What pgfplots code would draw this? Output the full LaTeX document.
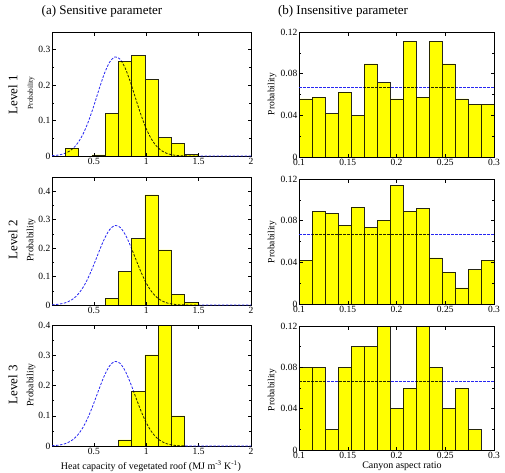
\documentclass[border=0pt]{standalone}
\usepackage{fontspec}
\setmainfont{Liberation Serif}
\usepackage{pgfplots}
\usepackage{pgfplotstable}
\pgfplotsset{compat=1.18}
\definecolor{barY}{rgb}{1,1,0}
\definecolor{lineB}{rgb}{0.15,0.15,0.95}

\pgfplotstableread{
x y
0.10 0.0009
0.15 0.0023
0.20 0.0052
0.25 0.0109
0.30 0.0212
0.35 0.0383
0.40 0.0641
0.45 0.0992
0.50 0.1423
0.55 0.1890
0.60 0.2325
0.65 0.2649
0.70 0.2796
0.75 0.2732
0.80 0.2473
0.85 0.2073
0.90 0.1609
0.95 0.1157
1.00 0.0770
1.05 0.0475
1.10 0.0271
1.15 0.0144
1.20 0.0070
1.25 0.0032
1.30 0.0013
1.40 0.0002
1.50 0.0
2.00 0.0
}\curvetab

\pgfplotsset{
 basepanel/.style={scale only axis, axis line style={line width=0.6pt},
   tick style={line width=0.5pt, black}, major tick length=3.5pt, minor tick length=2pt,
   tick align=inside, scaled ticks=false,
   tick label style={font=\fontsize{9.5}{10}\selectfont},
   xticklabel style={inner sep=2pt}, yticklabel style={inner sep=1.5pt},
   /pgf/number format/assume math mode=true,
   xtick pos=both, ytick pos=both, anchor=north west},
 lpanel/.style={basepanel, xmin=0.1, xmax=2, xtick={0.5,1,1.5,2}, xticklabels={0.5,1,1.5,2},
   width=199pt, minor y tick num=1},
 rpanel/.style={basepanel, xmin=0.1, xmax=0.3, ymin=0, ymax=0.12,
   xtick={0.1,0.15,0.2,0.25,0.3}, xticklabels={0.1,0.15,0.2,0.25,0.3},
   ytick={0,0.04,0.08,0.12}, yticklabels={0,0.04,0.08,0.12},
   width=195pt, height=125pt, minor y tick num=1},
 histbar/.style={ybar interval, fill=barY, draw=black!85, line width=0.5pt, blend mode=multiply},
 pdfcurve/.style={lineB, line width=0.8pt, dash pattern=on 2.5pt off 1.5pt},
}

\begin{document}
\begin{tikzpicture}
\useasboundingbox (0,0) rectangle (505pt,-472pt);

% ---- Left column ----
\begin{axis}[lpanel, at={(52pt,-32pt)}, height=124pt, ymin=0, ymax=0.35,
  ytick={0,0.1,0.2,0.3}, yticklabels={0,0.1,0.2,0.3}]
\addplot[pdfcurve, smooth] table {\curvetab};
\addplot[histbar] coordinates {(0.22667,0.022) (0.35333,0.022)};
\addplot[histbar] coordinates {(0.48,0.003) (0.60667,0.12) (0.73333,0.267) (0.86,0.283) (0.98667,0.2165) (1.11333,0.0516) (1.24,0.0356) (1.36667,0.004) (1.49333,0.004)};
\end{axis}

\begin{axis}[lpanel, at={(52pt,-177pt)}, height=128pt, ymin=0, ymax=0.45,
  ytick={0,0.1,0.2,0.3,0.4}, yticklabels={0,0.1,0.2,0.3,0.4}]
\addplot[pdfcurve, smooth] table {\curvetab};
\addplot[histbar] coordinates {(0.60667,0.023) (0.73333,0.117) (0.86,0.233) (0.98667,0.387) (1.11333,0.194) (1.24,0.037) (1.36667,0.0105) (1.49333,0.0105)};
\end{axis}

\begin{axis}[lpanel, at={(52pt,-325pt)}, height=121pt, ymin=0, ymax=0.4,
  ytick={0,0.1,0.2,0.3,0.4}, yticklabels={0,0.1,0.2,0.3,0.4}]
\addplot[pdfcurve, smooth] table {\curvetab};
\addplot[histbar] coordinates {(0.73333,0.02) (0.86,0.181) (0.98667,0.301) (1.11333,0.4) (1.24,0.1) (1.36667,0.1)};
\end{axis}

% ---- Right column ----
\begin{axis}[rpanel, at={(299pt,-32pt)}]
\addplot[pdfcurve] coordinates {(0.1,0.0667) (0.3,0.0667)};
\addplot[histbar] coordinates {(0.1,0.0557) (0.11333,0.0576) (0.12667,0.0416) (0.14,0.0624) (0.15333,0.0397) (0.16667,0.0893) (0.18,0.0714) (0.19333,0.0557) (0.20667,0.111) (0.22,0.0576) (0.23333,0.111) (0.24667,0.0893) (0.26,0.0557) (0.27333,0.0506) (0.28667,0.0506) (0.3,0.0506)};
\end{axis}

\begin{axis}[rpanel, at={(299pt,-179pt)}]
\addplot[pdfcurve] coordinates {(0.1,0.0667) (0.3,0.0667)};
\addplot[histbar] coordinates {(0.1,0.0419) (0.11333,0.089) (0.12667,0.087) (0.14,0.0755) (0.15333,0.0931) (0.16667,0.0733) (0.18,0.0803) (0.19333,0.1139) (0.20667,0.089) (0.22,0.0915) (0.23333,0.0442) (0.24667,0.0307) (0.26,0.0154) (0.27333,0.033) (0.28667,0.0419) (0.3,0.0419)};
\end{axis}

\begin{axis}[rpanel, at={(299pt,-326pt)}, height=124pt]
\addplot[pdfcurve] coordinates {(0.1,0.0667) (0.3,0.0667)};
\addplot[histbar] coordinates {(0.1,0.08) (0.11333,0.08) (0.12667,0.02) (0.14,0.08) (0.15333,0.10) (0.16667,0.10) (0.18,0.12) (0.19333,0.04) (0.20667,0.06) (0.22,0.12) (0.23333,0.08) (0.24667,0.04) (0.26,0.06) (0.27333,0.02) (0.28667,0.02)};
\end{axis}

% ---- Text ----
\node[font=\fontsize{13}{15}\selectfont] at (102pt,-11pt) {(a) Sensitive parameter};
\node[font=\fontsize{13}{15}\selectfont] at (343pt,-11pt) {(b) Insensitive parameter};
\node[font=\fontsize{13}{15}\selectfont, rotate=90] at (13pt,-95pt) {Level 1};
\node[font=\fontsize{13}{15}\selectfont, rotate=90] at (13pt,-240pt) {Level 2};
\node[font=\fontsize{13}{15}\selectfont, rotate=90] at (13pt,-385pt) {Level 3};
\node[font=\fontsize{7.4}{8}\selectfont, rotate=90] at (31pt,-93pt) {Probability};
\node[font=\fontsize{9.7}{11}\selectfont, rotate=90] at (31pt,-240pt) {Probability};
\node[font=\fontsize{9.7}{11}\selectfont, rotate=90] at (31pt,-385pt) {Probability};
\node[font=\fontsize{9.5}{11}\selectfont, rotate=90] at (272pt,-94pt) {Probability};
\node[font=\fontsize{9.5}{11}\selectfont, rotate=90] at (272pt,-242pt) {Probability};
\node[font=\fontsize{9.5}{11}\selectfont, rotate=90] at (272pt,-390pt) {Probability};
\node[font=\fontsize{10}{12}\selectfont] at (151pt,-466pt) {Heat capacity of vegetated roof (MJ m\textsuperscript{-3} K\textsuperscript{-1})};
\node[font=\fontsize{10}{12}\selectfont] at (402pt,-466pt) {Canyon aspect ratio};
\end{tikzpicture}
\end{document}
